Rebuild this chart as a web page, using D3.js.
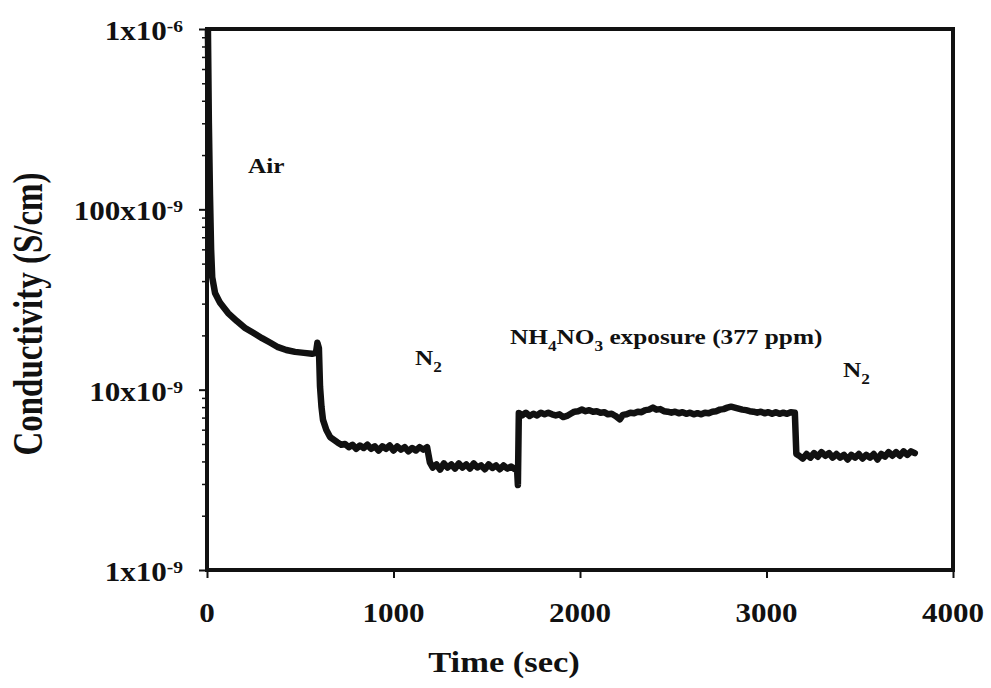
<!DOCTYPE html>
<html>
<head>
<meta charset="utf-8">
<script src="https://cdn.jsdelivr.net/npm/d3@7"></script>
<style>
  html, body { margin: 0; padding: 0; background: #fff; }
  svg { display: block; }
  text { font-family: "Liberation Serif", "Times New Roman", serif; font-weight: bold; fill: #111; }
</style>
</head>
<body>
<div id="chart"></div>
<script>
// readings (seconds, S/cm), wiggles follow the noise band
const timeSec = [
  5, 10, 16, 22, 28, 43, 70, 113, 160, 204, 250, 295, 340, 381, 425, 472, 520, 563, 584, 592, 600,
  606, 614, 622, 640, 660, 700, 720, 740, 760, 780, 800, 820, 840, 860, 880, 900, 920, 940, 960, 980,
  1000, 1020, 1040, 1060, 1080, 1100, 1120, 1140, 1160, 1180,
  1195, 1210, 1230, 1250, 1270, 1290, 1310, 1330, 1350, 1370, 1390, 1410, 1430, 1450, 1470, 1490,
  1510, 1530, 1550, 1570, 1590, 1610, 1630, 1650, 1662, 1667,
  1672, 1690, 1710, 1730, 1750, 1770, 1790, 1810, 1830, 1850, 1870, 1890, 1910, 1930, 1950, 1970, 1990,
  2010, 2030, 2050, 2070, 2090, 2110, 2130, 2150, 2170, 2190, 2214, 2230, 2250, 2270, 2290,
  2310, 2330, 2350, 2370, 2391, 2410, 2430, 2450, 2470, 2490, 2510, 2530, 2550, 2570, 2590,
  2610, 2630, 2650, 2670, 2690, 2710, 2730, 2750, 2770, 2790, 2810, 2830, 2850, 2870, 2890,
  2910, 2930, 2950, 2970, 2990, 3010, 3030, 3050, 3070, 3090, 3110, 3130, 3152,
  3160, 3175, 3195, 3215, 3235, 3255, 3275, 3295, 3315, 3335, 3355, 3375, 3395, 3415, 3435, 3455,
  3475, 3495, 3515, 3535, 3555, 3575, 3595, 3615, 3635, 3655, 3675, 3695, 3715, 3735, 3755, 3775, 3795
];
const conductivity = [
  9.8e-7, 3.0e-7, 1.2e-7, 6.0e-8, 4.2e-8, 3.44e-8, 3.03e-8, 2.66e-8, 2.40e-8, 2.20e-8, 2.06e-8, 1.93e-8, 1.82e-8, 1.72e-8, 1.66e-8, 1.62e-8, 1.60e-8, 1.58e-8, 1.60e-8, 1.82e-8, 1.70e-8,
  1.04e-8, 8.0e-9, 6.8e-9, 5.97e-9, 5.46e-9, 5.1e-9, 4.95e-9, 5.0e-9, 4.8e-9, 4.95e-9, 4.7e-9, 4.9e-9, 4.75e-9, 4.95e-9, 4.7e-9, 4.85e-9, 4.6e-9, 4.85e-9, 4.7e-9, 4.9e-9,
  4.6e-9, 4.85e-9, 4.65e-9, 4.8e-9, 4.55e-9, 4.75e-9, 4.6e-9, 4.8e-9, 4.65e-9, 4.8e-9,
  3.95e-9, 3.7e-9, 3.85e-9, 3.6e-9, 3.9e-9, 3.7e-9, 3.85e-9, 3.65e-9, 3.9e-9, 3.7e-9, 3.85e-9, 3.65e-9, 3.9e-9, 3.7e-9, 3.8e-9, 3.62e-9,
  3.85e-9, 3.68e-9, 3.8e-9, 3.62e-9, 3.8e-9, 3.65e-9, 3.75e-9, 3.62e-9, 3.72e-9, 2.96e-9,
  7.43e-9, 7.2e-9, 7.45e-9, 7.15e-9, 7.35e-9, 7.2e-9, 7.45e-9, 7.3e-9, 7.45e-9, 7.3e-9, 7.2e-9, 7.3e-9, 7.05e-9, 7.15e-9, 7.35e-9, 7.55e-9, 7.6e-9,
  7.75e-9, 7.6e-9, 7.7e-9, 7.55e-9, 7.6e-9, 7.45e-9, 7.5e-9, 7.3e-9, 7.35e-9, 7.15e-9, 6.85e-9, 7.25e-9, 7.3e-9, 7.45e-9, 7.4e-9,
  7.55e-9, 7.5e-9, 7.7e-9, 7.75e-9, 7.95e-9, 7.75e-9, 7.8e-9, 7.6e-9, 7.55e-9, 7.45e-9, 7.55e-9, 7.4e-9, 7.5e-9, 7.35e-9, 7.45e-9,
  7.3e-9, 7.4e-9, 7.3e-9, 7.45e-9, 7.4e-9, 7.55e-9, 7.6e-9, 7.75e-9, 7.8e-9, 7.95e-9, 8.05e-9, 7.95e-9, 7.85e-9, 7.75e-9, 7.7e-9,
  7.6e-9, 7.55e-9, 7.45e-9, 7.55e-9, 7.4e-9, 7.5e-9, 7.35e-9, 7.5e-9, 7.35e-9, 7.45e-9, 7.35e-9, 7.5e-9, 7.45e-9,
  4.4e-9, 4.3e-9, 4.15e-9, 4.4e-9, 4.2e-9, 4.45e-9, 4.25e-9, 4.5e-9, 4.3e-9, 4.45e-9, 4.2e-9, 4.4e-9, 4.2e-9, 4.35e-9, 4.1e-9, 4.35e-9,
  4.2e-9, 4.4e-9, 4.15e-9, 4.35e-9, 4.2e-9, 4.4e-9, 4.1e-9, 4.4e-9, 4.25e-9, 4.5e-9, 4.3e-9, 4.5e-9, 4.3e-9, 4.55e-9, 4.35e-9, 4.55e-9, 4.45e-9
];

const xTicks = [0, 1000, 2000, 3000, 4000];
const yTicks = [1e-9, 1e-8, 1e-7, 1e-6];
const yTickBase = ["1x10", "10x10", "100x10", "1x10"];
const yTickExp = ["-9", "-9", "-9", "-6"];

// text pieces, second item marks a subscript
const labelAir = [["Air", 0]];
const labelN2 = [["N", 0], ["2", 1]];
const labelExposure = [["NH", 0], ["4", 1], ["NO", 0], ["3", 1], [" exposure (377 ppm)", 0]];

const width = 991, height = 688;
const plot = { left: 207, top: 29, right: 953, bottom: 570 };
const stretch = 1.15;   // the scan is a bit wide

const svg = d3.select("#chart").append("svg")
  .attr("width", width)
  .attr("height", height)
  .attr("viewBox", `0 0 ${width} ${height}`);

const x = d3.scaleLinear().domain([0, 4000]).range([plot.left, plot.right]);
const y = d3.scaleLog().domain([1e-9, 1e-6]).range([plot.bottom, plot.top]);

// minor ticks, 2..9 in each decade
const minorTicks = [];
[1e-9, 1e-8, 1e-7].forEach(d => { for (let k = 2; k <= 9; k++) minorTicks.push(d * k); });

svg.append("g")
  .attr("transform", `translate(${plot.left},0)`)
  .call(d3.axisLeft(y).tickValues(minorTicks).tickSize(5).tickFormat(""))
  .call(g => g.select(".domain").remove())
  .call(g => g.selectAll("line").attr("stroke", "#111").attr("stroke-width", 1.5));

svg.append("g")
  .attr("transform", `translate(${plot.left},0)`)
  .call(d3.axisLeft(y).tickValues(yTicks).tickSize(8).tickFormat(""))
  .call(g => g.select(".domain").remove())
  .call(g => g.selectAll("line").attr("stroke", "#111").attr("stroke-width", 2));

svg.append("g")
  .attr("transform", `translate(0,${plot.bottom})`)
  .call(d3.axisBottom(x).tickValues(xTicks).tickSize(8).tickFormat(""))
  .call(g => g.select(".domain").remove())
  .call(g => g.selectAll("line").attr("stroke", "#111").attr("stroke-width", 2));

// frame
svg.append("rect")
  .attr("x", plot.left).attr("y", plot.top)
  .attr("width", plot.right - plot.left).attr("height", plot.bottom - plot.top)
  .attr("fill", "none").attr("stroke", "#111").attr("stroke-width", 4);

// trace
const pts = timeSec.map((t, i) => [t, conductivity[i]]);
svg.append("path")
  .datum(pts)
  .attr("fill", "none")
  .attr("stroke", "#111")
  .attr("stroke-width", 6.5)
  .attr("stroke-linejoin", "round")
  .attr("stroke-linecap", "round")
  .attr("d", d3.line().x(d => x(d[0])).y(d => y(d[1])));

// x tick labels
svg.append("g").selectAll("text")
  .data(xTicks)
  .join("text")
  .attr("transform", d => `translate(${x(d)},622) scale(${stretch},1)`)
  .attr("text-anchor", "middle")
  .style("font-size", "27px")
  .text(d => d);

// y tick labels with exponent
const yl = svg.append("g").selectAll("text")
  .data(yTicks)
  .join("text")
  .attr("transform", d => `translate(183,${y(d) + 11}) scale(${stretch},1)`)
  .attr("text-anchor", "end")
  .style("font-size", "27px");
yl.append("tspan").text((d, i) => yTickBase[i]);
yl.append("tspan").attr("dy", -8).style("font-size", "17px").text((d, i) => yTickExp[i]);

function label(parts, px, py, size, subSize) {
  const t = svg.append("text")
    .attr("transform", `translate(${px},${py}) scale(${stretch},1)`)
    .style("font-size", size + "px");
  let down = 0;
  parts.forEach(([s, sub]) => {
    const dy = sub ? 7 - down : -down;
    down = sub ? 7 : 0;
    const ts = t.append("tspan").attr("dy", dy).text(s);
    if (sub) ts.style("font-size", subSize + "px");
  });
  return t;
}

label(labelAir, 248, 173, 22, 15);
label(labelN2, 415, 365, 22, 15);
label(labelExposure, 510, 344, 22, 15);
label(labelN2, 843, 377, 22, 15);

// axis titles
svg.append("text")
  .attr("transform", `translate(504,672) scale(${stretch},1)`)
  .attr("text-anchor", "middle")
  .style("font-size", "30px")
  .text("Time (sec)");

svg.append("text")
  .attr("transform", `translate(42,314) scale(1.25,1) rotate(-90)`)
  .attr("text-anchor", "middle")
  .style("font-size", "33px")
  .text("Conductivity (S/cm)");
</script>
</body>
</html>
